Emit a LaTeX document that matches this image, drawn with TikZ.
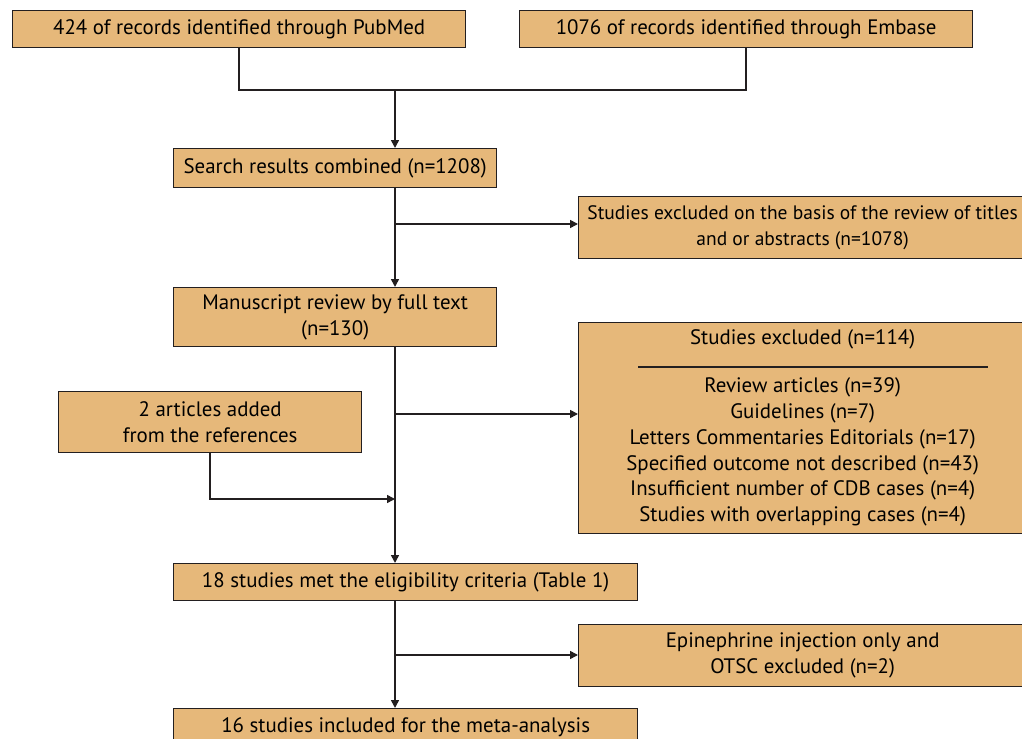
\documentclass[tikz,border=0pt]{standalone}
\usepackage{fontspec}
\setmainfont{PT Sans}
\usetikzlibrary{arrows.meta,positioning}
\definecolor{boxtan}{HTML}{E6B87A}
\definecolor{boxline}{HTML}{231F20}
\tikzset{
	box/.style={draw=boxline,line width=0.8pt,fill=boxtan,rectangle,align=center,anchor=north west,inner sep=0pt,font=\fontsize{11.9}{14.7}\selectfont},
	link/.style={draw=boxline,line width=0.9pt},
	arr/.style={link,-{Triangle[length=4.5pt,width=4.5pt]}}
}
\begin{document}
\begin{tikzpicture}[x=0.02cm,y=-0.02cm]
	\clip (0,0) rectangle (1022,739);
	\node[box,minimum width=9.06cm,minimum height=0.74cm] (pubmed) at (12,10) {424 of records identified through PubMed};
	\node[box,minimum width=9.06cm,minimum height=0.74cm] (embase) at (519,10) {1076 of records identified through Embase};
	\node[box,minimum width=6.46cm,minimum height=0.78cm] (comb) at (173,148) {Search results combined (n=1208)};
	\node[box,minimum width=8.96cm,minimum height=1.24cm,font=\fontsize{11.1}{14.7}\selectfont] (extitle) at (578,196) {Studies excluded on the basis of the review of titles\\and or abstracts (n=1078)};
	\node[box,minimum width=6.46cm,minimum height=1.18cm] (full) at (173,287) {Manuscript review by full text\\(n=130)};
	\node[box,minimum width=8.96cm,minimum height=4.22cm] (exfull) at (578,322) {Studies excluded (n=114)\\[12.5pt]
		Review articles (n=39)\\
		Guidelines (n=7)\\
		Letters Commentaries Editorials (n=17)\\
		Specified outcome not described (n=43)\\
		Insufficient number of CDB cases (n=4)\\
		Studies with overlapping cases (n=4)};
	\node[box,minimum width=6.06cm,minimum height=1.22cm] (refs) at (58,391) {2 articles added\\from the references};
	\node[box,minimum width=9.28cm,minimum height=0.74cm] (elig) at (173,563) {18 studies met the eligibility criteria (Table 1)};
	\node[box,minimum width=8.96cm,minimum height=1.24cm] (epi) at (578,624) {Epinephrine injection only and\\OTSC excluded (n=2)};
	\node[box,minimum width=9.28cm,minimum height=0.74cm] (incl) at (173,708) {16 studies included for the meta-analysis};
	% rule under the heading of the exclusion list
	\draw[link,line width=0.7pt] (638,367) -- (988,367);
	\coordinate (join) at (395,90);
	\coordinate (sp1) at (395,224);
	\coordinate (sp2) at (395,414);
	\coordinate (sp3) at (395,499);
	\coordinate (sp4) at (395,655);
	\draw[link] (pubmed.south) |- (join) -| (embase.south);
	\draw[arr] (join) -- (join |- comb.north);
	\draw[arr] (join |- comb.south) -- (join |- full.north);
	\draw[arr] (sp1) -- (sp1 -| extitle.west);
	\draw[arr] (join |- full.south) -- (join |- elig.north);
	\draw[arr] (sp2) -- (sp2 -| exfull.west);
	\draw[arr] (refs.south) |- (sp3);
	\draw[arr] (join |- elig.south) -- (join |- incl.north);
	\draw[arr] (sp4) -- (sp4 -| epi.west);
\end{tikzpicture}
\end{document}
